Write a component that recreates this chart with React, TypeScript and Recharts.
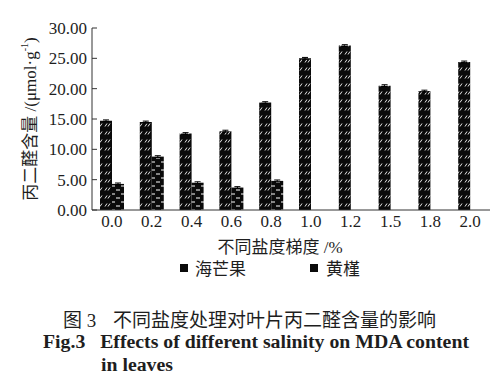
import { BarChart, Bar, XAxis, YAxis, ErrorBar } from 'recharts'

const salinity = ['0.0', '0.2', '0.4', '0.6', '0.8', '1.0', '1.2', '1.5', '1.8', '2.0']
const haiMangGuo = [14.7, 14.5, 12.6, 13.0, 17.7, 25.0, 27.1, 20.5, 19.6, 24.4]
const haiMangGuoErr = [0.15, 0.15, 0.15, 0.15, 0.15, 0.15, 0.15, 0.15, 0.15, 0.15]
const huangJin = [4.3, 8.8, 4.5, 3.7, 4.8, null, null, null, null, null]
const huangJinErr = [0.15, 0.15, 0.15, 0.15, 0.15, null, null, null, null, null]
const yTicks = [0, 5, 10, 15, 20, 25, 30]
const boundaryTicks = [1, 2, 3, 4, 5, 6, 7, 8, 9]

const SERIF = '"Liberation Serif", "Noto Sans CJK SC", serif'
const INK = '#1e1e1e'

const data = salinity.map((s, i) => ({
  s,
  hai: haiMangGuo[i],
  haiErr: haiMangGuoErr[i],
  huang: huangJin[i],
  huangErr: huangJinErr[i],
}))

// rotated y-axis title with the g^-1 superscript
function YTitle() {
  return (
    <text
      x={30}
      y={119}
      transform="rotate(-90 30 119)"
      textAnchor="middle"
      dominantBaseline="central"
      fontFamily={SERIF}
      fontSize={17}
      fill={INK}
    >
      丙二醛含量 /(μmol·g
      <tspan dy={-6} fontSize={10}>-1</tspan>
      <tspan dy={6}>)</tspan>
    </text>
  )
}

export default function App() {
  return (
    <div style={{ position: 'absolute', left: 0, top: 0, width: 500, height: 384, background: '#fff' }}>
      <BarChart
        width={500}
        height={384}
        data={data}
        margin={{ top: 28, right: 10, left: 0, bottom: 172 }}
        barCategoryGap={8}
        barGap={0}
      >
        <defs>
          <pattern id="pHai" width={8} height={8} patternUnits="userSpaceOnUse">
            <rect width={8} height={8} fill="#0a0a0a" />
            <path d="M1 6.5 L3 3.5 M4 6.5 L6 3.5" stroke="#fff" strokeWidth={0.9} />
          </pattern>
          <pattern id="pHuang" width={10} height={8} patternUnits="userSpaceOnUse">
            <rect width={10} height={8} fill="#0a0a0a" />
            <path d="M1 2 L5 2 M6 6 L10 6" stroke="#fff" strokeWidth={1} />
          </pattern>
        </defs>
        <XAxis
          dataKey="s"
          height={1}
          tickLine={false}
          tickSize={0}
          tickMargin={5}
          axisLine={{ stroke: '#333' }}
          tick={{ fill: INK, fontSize: 17, fontFamily: SERIF }}
          interval={0}
        />
        <XAxis
          xAxisId="edges"
          type="number"
          domain={[0, 10]}
          ticks={boundaryTicks}
          height={1}
          tick={false}
          axisLine={false}
          tickSize={-4}
          tickLine={{ stroke: '#333' }}
        />
        <YAxis
          width={92}
          domain={[0, 30]}
          ticks={yTicks}
          tickFormatter={(v: number) => v.toFixed(2)}
          axisLine={{ stroke: '#333' }}
          tickLine={{ stroke: '#333' }}
          tickSize={-5}
          tickMargin={10}
          tick={{ fill: INK, fontSize: 17, fontFamily: SERIF }}
          label={{ content: <YTitle /> }}
        />
        <Bar dataKey="hai" fill="url(#pHai)" isAnimationActive={false}>
          <ErrorBar dataKey="haiErr" width={3} stroke="#000" strokeWidth={1} />
        </Bar>
        <Bar dataKey="huang" fill="url(#pHuang)" isAnimationActive={false}>
          <ErrorBar dataKey="huangErr" width={3} stroke="#000" strokeWidth={1} />
        </Bar>
      </BarChart>

      <div style={{ position: 'absolute', top: 233, left: 180, width: 200, textAlign: 'center', fontFamily: SERIF, fontSize: 17, color: INK }}>
        不同盐度梯度 /%
      </div>

      <div style={{ position: 'absolute', top: 255, left: 180, fontFamily: SERIF, fontSize: 17, color: INK, display: 'flex', alignItems: 'center' }}>
        <span style={{ width: 8, height: 8, background: '#0a0a0a', display: 'inline-block', marginRight: 7 }} />
        <span>海芒果</span>
        <span style={{ width: 8, height: 8, background: '#0a0a0a', display: 'inline-block', marginLeft: 64, marginRight: 8 }} />
        <span>黄槿</span>
      </div>

      <div style={{ position: 'absolute', top: 305, left: 63, fontFamily: SERIF, fontSize: 19, color: INK, whiteSpace: 'pre' }}>
        图 3
      </div>
      <div style={{ position: 'absolute', top: 305, left: 113, fontFamily: SERIF, fontSize: 19, color: INK, whiteSpace: 'pre' }}>
        不同盐度处理对叶片丙二醛含量的影响
      </div>
      <div style={{ position: 'absolute', top: 330, left: 43, fontFamily: SERIF, fontSize: 19.8, fontWeight: 'bold', color: INK, whiteSpace: 'pre' }}>
        {'Fig.3   Effects of different salinity on MDA content'}
      </div>
      <div style={{ position: 'absolute', top: 353, left: 101, fontFamily: SERIF, fontSize: 19.8, fontWeight: 'bold', color: INK }}>
        in leaves
      </div>
    </div>
  )
}
